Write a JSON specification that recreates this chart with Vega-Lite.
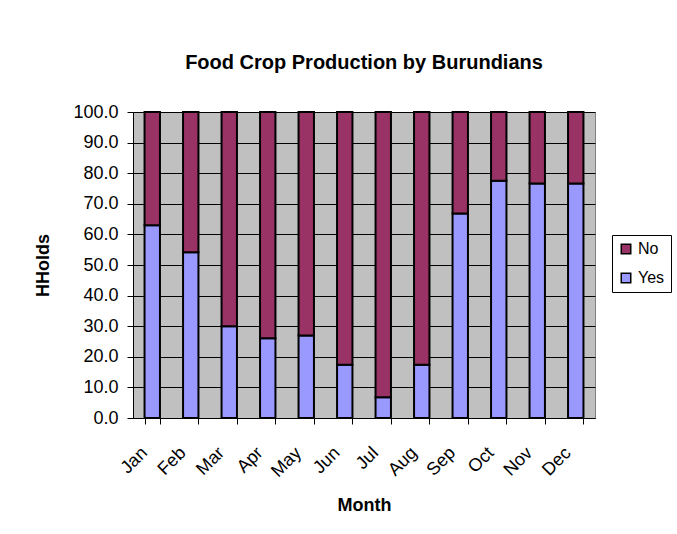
{
  "$schema": "https://vega.github.io/schema/vega-lite/v6.json",
  "autosize": {"type": "none"},
  "width": 462,
  "height": 306,
  "padding": {"left": 133, "top": 112, "right": 82, "bottom": 116},
  "background": "white",
  "title": {
    "text": "Food Crop Production by Burundians",
    "font": "Liberation Sans",
    "fontSize": 20,
    "fontWeight": "bold",
    "color": "black",
    "anchor": "middle",
    "offset": 30
  },
  "data": {
    "values": [
      {"Month": "Jan", "Response": "Yes", "HHolds": 63.0},
      {"Month": "Jan", "Response": "No", "HHolds": 37.0},
      {"Month": "Feb", "Response": "Yes", "HHolds": 54.2},
      {"Month": "Feb", "Response": "No", "HHolds": 45.8},
      {"Month": "Mar", "Response": "Yes", "HHolds": 30.0},
      {"Month": "Mar", "Response": "No", "HHolds": 70.0},
      {"Month": "Apr", "Response": "Yes", "HHolds": 26.1},
      {"Month": "Apr", "Response": "No", "HHolds": 73.9},
      {"Month": "May", "Response": "Yes", "HHolds": 27.0},
      {"Month": "May", "Response": "No", "HHolds": 73.0},
      {"Month": "Jun", "Response": "Yes", "HHolds": 17.4},
      {"Month": "Jun", "Response": "No", "HHolds": 82.6},
      {"Month": "Jul", "Response": "Yes", "HHolds": 6.8},
      {"Month": "Jul", "Response": "No", "HHolds": 93.2},
      {"Month": "Aug", "Response": "Yes", "HHolds": 17.4},
      {"Month": "Aug", "Response": "No", "HHolds": 82.6},
      {"Month": "Sep", "Response": "Yes", "HHolds": 66.8},
      {"Month": "Sep", "Response": "No", "HHolds": 33.2},
      {"Month": "Oct", "Response": "Yes", "HHolds": 77.5},
      {"Month": "Oct", "Response": "No", "HHolds": 22.5},
      {"Month": "Nov", "Response": "Yes", "HHolds": 76.6},
      {"Month": "Nov", "Response": "No", "HHolds": 23.4},
      {"Month": "Dec", "Response": "Yes", "HHolds": 76.6},
      {"Month": "Dec", "Response": "No", "HHolds": 23.4}
    ]
  },
  "mark": {"type": "bar", "stroke": "black", "strokeWidth": 2},
  "encoding": {
    "x": {
      "field": "Month",
      "type": "nominal",
      "sort": ["Jan","Feb","Mar","Apr","May","Jun","Jul","Aug","Sep","Oct","Nov","Dec"],
      "scale": {"paddingInner": 0.6, "paddingOuter": 0.3},
      "axis": {
        "title": "Month",
        "labelAngle": -45,
        "labelAlign": "right",
        "labelBaseline": "middle",
        "labelPadding": 26,
        "labelOffset": -8,
        "tickBand": "extent",
        "tickSize": 6,
        "titlePadding": 16
      }
    },
    "y": {
      "field": "HHolds",
      "type": "quantitative",
      "stack": "zero",
      "scale": {"domain": [0, 100], "nice": false},
      "axis": {
        "title": "HHolds",
        "values": [0,10,20,30,40,50,60,70,80,90,100],
        "format": ".1f",
        "grid": true,
        "tickSize": 6,
        "labelPadding": 9,
        "titlePadding": 20
      }
    },
    "color": {
      "field": "Response",
      "type": "nominal",
      "scale": {"domain": ["No", "Yes"], "range": ["#993366", "#9999FF"]},
      "legend": {
        "title": null,
        "orient": "none",
        "legendX": 479,
        "legendY": 123,
        "symbolType": "square",
        "symbolSize": 90,
        "symbolStrokeColor": "black",
        "symbolStrokeWidth": 1.5,
        "symbolOpacity": 1,
        "labelFontSize": 16,
        "labelFont": "Liberation Sans",
        "labelColor": "black",
        "rowPadding": 13,
        "padding": 6,
        "strokeColor": "black",
        "fillColor": "white",
        "labelOffset": 4
      }
    },
    "order": {"field": "Response", "sort": "descending"}
  },
  "config": {
    "view": {"fill": "#C0C0C0", "stroke": "#808080", "strokeWidth": 1},
    "axis": {
      "labelFont": "Liberation Sans",
      "labelFontSize": 18,
      "labelColor": "black",
      "titleFont": "Liberation Sans",
      "titleFontSize": 18,
      "titleFontWeight": "bold",
      "titleColor": "black",
      "domainColor": "black",
      "domainWidth": 1,
      "tickColor": "black",
      "gridColor": "black",
      "gridWidth": 1,
      "gridOpacity": 1
    }
  }
}
